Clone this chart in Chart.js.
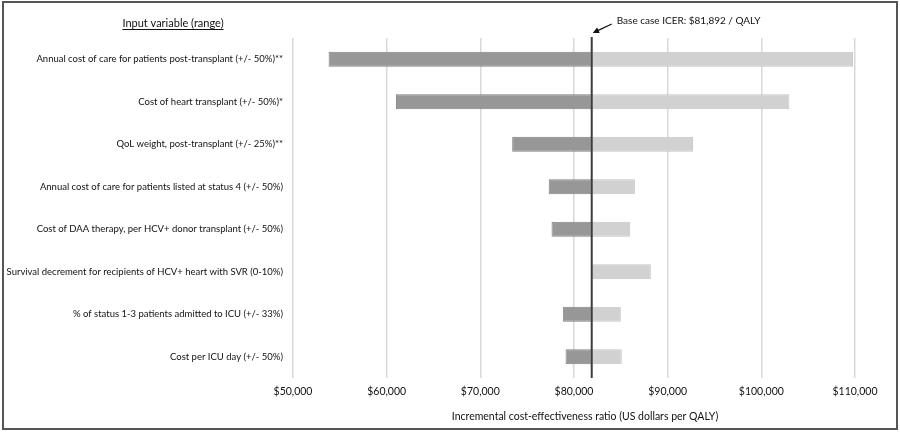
<!DOCTYPE html>
<html>
<head>
<meta charset="utf-8">
<script src="https://cdn.jsdelivr.net/npm/chart.js@4/dist/chart.umd.min.js"></script>
<style>
  html, body { margin: 0; padding: 0; background: #ffffff; }
  canvas { display: block; }
</style>
</head>
<body>
<canvas id="grafico" width="900" height="442"></canvas>
<script>
const categorie = [
    "Annual cost of care for patients post-transplant (+/- 50%)**",
    "Cost of heart transplant (+/- 50%)*",
    "QoL weight, post-transplant (+/- 25%)**",
    "Annual cost of care for patients listed at status 4 (+/- 50%)",
    "Cost of DAA therapy, per HCV+ donor transplant (+/- 50%)",
    "Survival decrement for recipients of HCV+ heart with SVR (0-10%)",
    "% of status 1-3 patients admitted to ICU (+/- 33%)",
    "Cost per ICU day (+/- 50%)"
];
const valoriBassi = [53800, 61000, 73400, 77300, 77600, null, 78800, 79100];
const valoriAlti = [109800, 103000, 92700, 86500, 86000, 88200, 85000, 85100];
const casoBase = 81892;
const tickMin = 50000;
const tickMax = 110000;
const tickPasso = 10000;

const font = "Lato";
const coloreTesto = "#111111";

const formatoDollari = v => "$" + Number(v).toLocaleString("en-US");

// linea base, annotazione, intestazione, titolo asse e cornice
const decorazioni = {
    id: 'decorazioni',
    afterDatasetsDraw(chart) {
        const ctx = chart.ctx;
        const area = chart.chartArea;
        const xBase = chart.scales.x.getPixelForValue(casoBase);

        ctx.save();
        ctx.strokeStyle = "#3c3c3c";
        ctx.lineWidth = 2;
        ctx.beginPath();
        ctx.moveTo(xBase, area.top - 1);
        ctx.lineTo(xBase, area.bottom);
        ctx.stroke();

        // freccia
        const coda = { x: xBase + 20, y: 24 };
        const punta = { x: xBase + 1, y: 33 };
        ctx.strokeStyle = "#111";
        ctx.fillStyle = "#111";
        ctx.lineWidth = 1.3;
        ctx.beginPath();
        ctx.moveTo(coda.x, coda.y);
        ctx.lineTo(punta.x + 4, punta.y - 1.9);
        ctx.stroke();
        const ang = Math.atan2(punta.y - coda.y, punta.x - coda.x);
        ctx.beginPath();
        ctx.moveTo(punta.x, punta.y);
        ctx.lineTo(punta.x - 7 * Math.cos(ang - 0.45), punta.y - 7 * Math.sin(ang - 0.45));
        ctx.lineTo(punta.x - 7 * Math.cos(ang + 0.45), punta.y - 7 * Math.sin(ang + 0.45));
        ctx.closePath();
        ctx.fill();

        ctx.fillStyle = coloreTesto;
        ctx.font = "10px " + font;
        ctx.textAlign = "left";
        ctx.textBaseline = "middle";
        ctx.fillText("Base case ICER: " + formatoDollari(casoBase) + " / QALY", xBase + 25, 21);

        // titolo asse x
        ctx.textAlign = "center";
        ctx.font = "10.5px " + font;
        ctx.fillText("Incremental cost-effectiveness ratio (US dollars per QALY)", 585, 417);

        // intestazione sottolineata
        const testo = "Input variable (range)";
        ctx.font = "11px " + font;
        ctx.fillText(testo, 173, 23);
        const larghezza = ctx.measureText(testo).width;
        ctx.strokeStyle = coloreTesto;
        ctx.lineWidth = 1;
        ctx.beginPath();
        ctx.moveTo(173 - larghezza / 2, 29.5);
        ctx.lineTo(173 + larghezza / 2, 29.5);
        ctx.stroke();

        // cornice
        ctx.strokeStyle = "#555";
        ctx.lineWidth = 2;
        ctx.strokeRect(3, 2, 894, 427);
        ctx.restore();
    }
};

const datiGrafico = {
    labels: categorie,
    datasets: [
        {
            label: 'Basso',
            data: valoriBassi.map(v => v === null ? null : [v, casoBase]),
            backgroundColor: '#979797',
            borderColor: '#828282',
            borderWidth: 1,
            borderSkipped: false
        },
        {
            label: 'Alto',
            data: valoriAlti.map(v => [casoBase, v]),
            backgroundColor: '#d1d1d1',
            borderColor: '#c5c5c5',
            borderWidth: 1,
            borderSkipped: false
        }
    ]
};

const config = {
    type: 'bar',
    data: datiGrafico,
    options: {
        indexAxis: 'y',
        responsive: false,
        animation: false,
        grouped: false,
        categoryPercentage: 1,
        barPercentage: 0.35,
        layout: {
            padding: { top: 38, right: 45, bottom: 12, left: 0 }
        },
        plugins: {
            legend: { display: false },
            tooltip: { enabled: false }
        },
        scales: {
            x: {
                type: 'linear',
                min: tickMin,
                max: tickMax,
                afterFit(scale) { scale.height = 52; },
                ticks: {
                    stepSize: tickPasso,
                    padding: 7,
                    color: coloreTesto,
                    font: { family: font, size: 10.5 },
                    callback: v => formatoDollari(v)
                },
                grid: {
                    color: '#d9d9d9',
                    lineWidth: 1.5,
                    drawTicks: false
                },
                border: { display: false }
            },
            y: {
                afterFit(scale) { scale.width = 293; },
                ticks: {
                    padding: 10,
                    color: coloreTesto,
                    font: { family: font, size: 9.5 }
                },
                grid: { display: false, drawTicks: false },
                border: { display: false }
            }
        }
    },
    plugins: [decorazioni]
};

new Chart(document.getElementById('grafico').getContext('2d'), config);
</script>
</body>
</html>
